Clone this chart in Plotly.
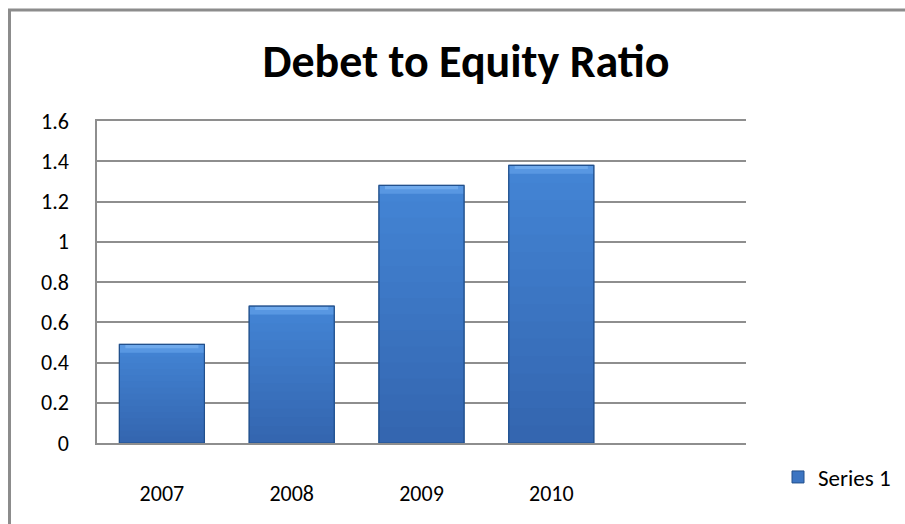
import plotly.graph_objects as go

# Debt-to-equity ratio by year
years = ["2007", "2008", "2009", "2010"]
ratios = [0.49, 0.68, 1.28, 1.38]
y_ticks = [0, 0.2, 0.4, 0.6, 0.8, 1.0, 1.2, 1.4, 1.6]
y_tick_labels = ["0", "0.2", "0.4", "0.6", "0.8", "1", "1.2", "1.4", "1.6"]

FONT = "Carlito, Calibri, Lato, sans-serif"
W, H = 905, 524
L, R, T, B = 97, 159, 121, 81
pw, ph = W - L - R, H - T - B
BAR_W = 0.655

TOP_RGB = (67, 132, 212)
BOTTOM_RGB = (52, 102, 176)


def mix(a, b, t):
    return "rgb(%d,%d,%d)" % tuple(round(a[i] + (b[i] - a[i]) * t) for i in range(3))


fig = go.Figure()

# base bar (also provides the legend swatch)
fig.add_trace(go.Bar(
    x=years, y=ratios, name="Series 1",
    marker=dict(color=mix(TOP_RGB, BOTTOM_RGB, 0.5), line=dict(color="#22508c", width=1)),
    width=BAR_W,
))

# vertical shading: nested bars, each shorter one a little darker
steps = 16
for k in range(steps):
    frac = (steps - k) / steps
    fig.add_trace(go.Bar(
        x=years, y=[v * frac for v in ratios],
        marker=dict(color=mix(TOP_RGB, BOTTOM_RGB, k / (steps - 1)), line=dict(width=0)),
        width=BAR_W, showlegend=False, hoverinfo="skip",
    ))

# bevelled top edge
bevel = 0.042
fig.add_trace(go.Bar(
    x=years, y=[bevel] * len(ratios), base=[v - bevel for v in ratios],
    marker=dict(color="rgb(88,151,226)", line=dict(width=0)),
    width=BAR_W, showlegend=False, hoverinfo="skip",
))
fig.add_trace(go.Bar(
    x=years, y=[bevel * 0.45] * len(ratios), base=[v - bevel * 0.45 for v in ratios],
    marker=dict(color="rgb(112,170,236)", line=dict(width=0)),
    width=BAR_W * 0.86, showlegend=False, hoverinfo="skip",
))

# dark outline on top of everything
fig.add_trace(go.Bar(
    x=years, y=ratios,
    marker=dict(color="rgba(0,0,0,0)", line=dict(color="#22508c", width=1.2)),
    width=BAR_W, showlegend=False, hoverinfo="skip",
))


def px_x(px):
    return (px - L) / pw


def px_y(py):
    return (H - B - py) / ph


fig.update_layout(
    width=W, height=H,
    margin=dict(l=L, r=R, t=T, b=B, autoexpand=False),
    paper_bgcolor="white", plot_bgcolor="white",
    barmode="overlay",
    font=dict(family=FONT, color="#000000"),
    title=dict(text="<b>Debet to Equity Ratio</b>", x=466 / W, xref="container",
               xanchor="center", y=1 - 61 / H, yref="container", yanchor="middle",
               font=dict(family=FONT, size=46, color="#000000")),
    showlegend=True,
    legend=dict(x=px_x(778), y=px_y(477), xanchor="left", yanchor="middle",
                font=dict(family=FONT, size=23), bgcolor="rgba(0,0,0,0)",
                itemwidth=30, traceorder="normal"),
    shapes=[
        # chart frame (left and top edges)
        dict(type="line", xref="paper", yref="paper",
             x0=px_x(9.5), x1=px_x(9.5), y0=px_y(9), y1=px_y(530),
             line=dict(color="#8c8c8c", width=3)),
        dict(type="line", xref="paper", yref="paper",
             x0=px_x(8), x1=px_x(910), y0=px_y(10), y1=px_y(10),
             line=dict(color="#8c8c8c", width=3)),
    ],
)

fig.update_xaxes(
    type="category", categoryorder="array", categoryarray=years,
    range=[-0.5, 4.5], automargin=False,
    showgrid=False, showline=True, mirror=True, linecolor="#8e8e8e", linewidth=1.5,
    ticks="", ticklabelstandoff=30,
    tickfont=dict(family=FONT, size=22, color="#000000"),
)
fig.update_yaxes(
    range=[0, 1.6], tickvals=y_ticks, ticktext=y_tick_labels, automargin=False,
    showgrid=True, gridcolor="#8e8e8e", gridwidth=1.5,
    showline=True, linecolor="#8e8e8e", linewidth=1.5,
    zeroline=False, ticks="", ticklabelstandoff=22,
    tickfont=dict(family=FONT, size=22, color="#000000"),
)

fig.write_html("out.html")
